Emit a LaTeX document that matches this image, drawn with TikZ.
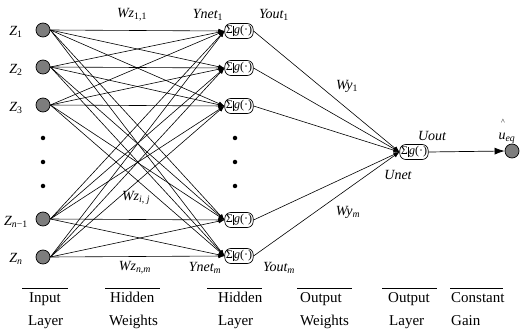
\documentclass[tikz,border=0pt]{standalone}
\usepackage{fontspec}
\setmainfont{Liberation Serif}
\usetikzlibrary{arrows.meta}
\definecolor{nodegray}{RGB}{125,125,125}
\newcommand\nrncontent{Σ\kern0.5pt\vrule\kern0.5pt\textit{g}(·)}
\begin{document}
\begin{tikzpicture}[x=1pt,y=-1pt,
  inp/.style={circle,draw,line width=0.7pt,fill=nodegray,minimum size=14pt,inner sep=0pt},
  nrn/.style={draw,line width=0.7pt,rounded corners=6pt,minimum width=28pt,minimum height=15pt,inner xsep=1pt,inner ysep=0.5pt,fill=white,font=\fontsize{12}{12}\selectfont},
  lbl/.style={font=\fontsize{14}{14}\selectfont\itshape,inner sep=0pt},
  captext/.style={font=\fontsize{15}{15}\selectfont,anchor=base west,inner sep=0pt},
  conn/.style={line width=0.6pt,-{Latex[length=6pt,width=4.5pt]}},
  bigarrow/.style={line width=0.7pt,-{Latex[length=10pt,width=7pt]}},
  capline/.style={line width=0.7pt},
  dotmark/.style={circle,fill,inner sep=0pt,minimum size=4.5pt}
]
\useasboundingbox (0,0) rectangle (520,334);

% input nodes
\node[inp] (i1) at (43,30) {};
\node[inp] (i2) at (43,67) {};
\node[inp] (i3) at (43,105) {};
\node[inp] (i4) at (43,219) {};
\node[inp] (i5) at (43,257) {};
\node[dotmark] (di1) at (43,138) {};
\node[dotmark] (di2) at (43,162) {};
\node[dotmark] (di3) at (43,186) {};

% hidden nodes
\node[nrn] (h1) at (239,31) {\nrncontent};
\node[nrn] (h2) at (239,68) {\nrncontent};
\node[nrn] (h3) at (239,106) {\nrncontent};
\node[nrn] (h4) at (239,220) {\nrncontent};
\node[nrn] (h5) at (239,256) {\nrncontent};
\node[dotmark] (dh1) at (235,138) {};
\node[dotmark] (dh2) at (235,162) {};
\node[dotmark] (dh3) at (235,186) {};

% output node and final
\node[nrn] (o) at (414,152) {\nrncontent};
\node[inp] (u) at (512,151) {};

% connections input -> hidden
\foreach \a in {1,...,5}{
  \foreach \b in {1,...,5}{
    \draw[conn] (i\a.east) -- (h\b.west);
  }
}
% hidden -> output
\foreach \b in {1,...,5}{
  \draw[conn] (h\b.east) -- (o.west);
}
\draw[bigarrow] (o.east) -- (u.west);

% labels
\node[lbl] (z1) at (16,32) {Z\textsubscript{\upshape 1}};
\node[lbl] (z2) at (16,70) {Z\textsubscript{\upshape 2}};
\node[lbl] (z3) at (16,108) {Z\textsubscript{\upshape 3}};
\node[lbl] (z4) at (16,222) {Z\textsubscript{\textit{n}\upshape −1}};
\node[lbl] (z5) at (16,259) {Z\textsubscript{\textit{n}}};

\node[lbl] (wz11) at (132,15) {Wz\textsubscript{\upshape 1,1}};
\node[lbl] (wzij) at (136,198) {Wz\textsubscript{\textit{i}\upshape , \textit{j}}};
\node[lbl] (wznm) at (135,268) {Wz\textsubscript{\textit{n}\upshape ,\textit{m}}};
\node[lbl] (ynet1) at (208,15) {Ynet\textsubscript{\upshape 1}};
\node[lbl] (yout1) at (274,15) {Yout\textsubscript{\upshape 1}};
\node[lbl] (ynetm) at (205,268) {Ynet\textsubscript{\textit{m}}};
\node[lbl] (youtm) at (279,268) {Yout\textsubscript{\textit{m}}};
\node[lbl] (wy1) at (347,86) {Wy\textsubscript{\upshape 1}};
\node[lbl] (wym) at (348,212) {Wy\textsubscript{\textit{m}}};
\node[lbl] (uout) at (432,136) {Uout};
\node[lbl] (unet) at (398,175) {Unet};
\node[lbl,font=\fontsize{8}{8}\selectfont] (hat) at (503,122) {\textasciicircum};
\node[lbl] (ueq) at (507,138) {u\textsubscript{\textit{eq}}};

% bottom captions
\coordinate (l1a) at (22,288); \coordinate (l1b) at (68,288);
\coordinate (l2a) at (105,288); \coordinate (l2b) at (160,288);
\coordinate (l3a) at (207,288); \coordinate (l3b) at (262,288);
\coordinate (l4a) at (297,288); \coordinate (l4b) at (352,288);
\coordinate (l5a) at (382,288); \coordinate (l5b) at (437,288);
\coordinate (l6a) at (450,288); \coordinate (l6b) at (503,288);
\draw[capline] (l1a) -- (l1b);
\draw[capline] (l2a) -- (l2b);
\draw[capline] (l3a) -- (l3b);
\draw[capline] (l4a) -- (l4b);
\draw[capline] (l5a) -- (l5b);
\draw[capline] (l6a) -- (l6b);

\node[captext] (c1a) at (29,302) {Input};
\node[captext] (c1b) at (28,325) {Layer};
\node[captext] (c2a) at (110,302) {Hidden};
\node[captext] (c2b) at (109,325) {Weights};
\node[captext] (c3a) at (218,302) {Hidden};
\node[captext] (c3b) at (218,325) {Layer};
\node[captext] (c4a) at (300,302) {Output};
\node[captext] (c4b) at (300,325) {Weights};
\node[captext] (c5a) at (388,302) {Output};
\node[captext] (c5b) at (389,325) {Layer};
\node[captext] (c6a) at (451,302) {Constant};
\node[captext] (c6b) at (451,325) {Gain};
\end{tikzpicture}
\end{document}
